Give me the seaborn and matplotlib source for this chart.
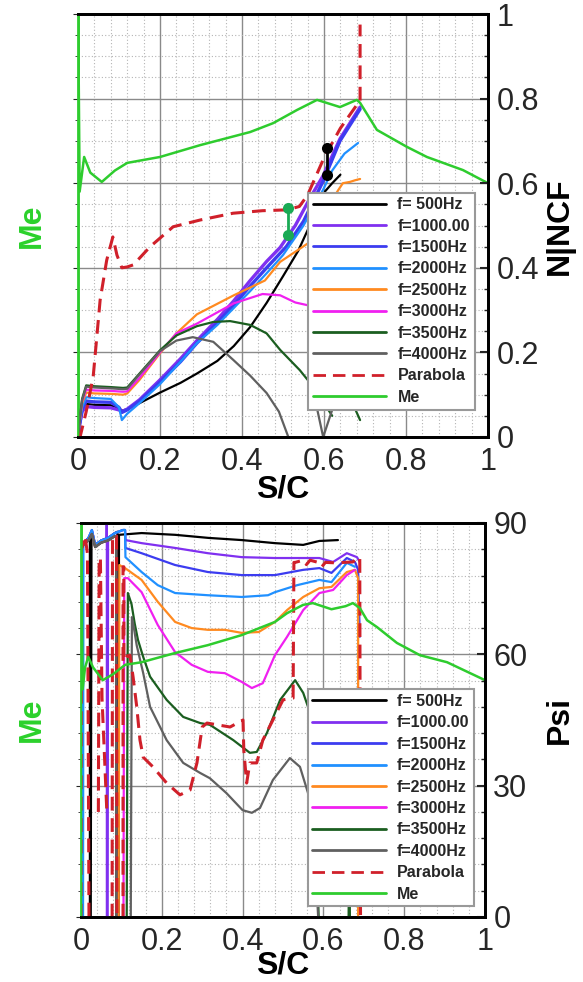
import numpy as np
import pandas as pd
import matplotlib
matplotlib.use("Agg")
import matplotlib.pyplot as plt
import seaborn as sns
from matplotlib import ticker
from matplotlib.lines import Line2D

# ---------------- data ----------------
labels = ["f= 500Hz", "f=1000.00", "f=1500Hz", "f=2000Hz", "f=2500Hz",
          "f=3000Hz", "f=3500Hz", "f=4000Hz", "Parabola", "Me"]
colors = ["#000000", "#8030f0", "#3c3cf0", "#2090ff", "#ff8a20",
          "#f020f0", "#1b5e20", "#606060", "#d0202a", "#2ecc2e"]

# top panel: N|NCF vs S/C
top_x_500 = [0, 0.004, 0.01, 0.02, 0.04, 0.08, 0.1, 0.107, 0.12, 0.15, 0.2, 0.25, 0.29, 0.34, 0.38, 0.42, 0.46, 0.5, 0.537, 0.57, 0.602, 0.62, 0.64]
top_y_500 = [0, 0.03, 0.065, 0.078, 0.076, 0.075, 0.068, 0.062, 0.066, 0.08, 0.105, 0.128, 0.15, 0.18, 0.215, 0.26, 0.317, 0.38, 0.44, 0.51, 0.58, 0.6, 0.62]
top_x_1000 = [0, 0.004, 0.01, 0.02, 0.04, 0.08, 0.1, 0.107, 0.12, 0.15, 0.2, 0.25, 0.29, 0.34, 0.38, 0.42, 0.46, 0.493, 0.53, 0.566, 0.598, 0.639, 0.688]
top_y_1000 = [0, 0.03, 0.06, 0.072, 0.07, 0.069, 0.064, 0.06, 0.066, 0.088, 0.135, 0.185, 0.228, 0.278, 0.322, 0.37, 0.415, 0.448, 0.5, 0.565, 0.618, 0.705, 0.78]
top_x_1500 = [0, 0.004, 0.01, 0.02, 0.04, 0.08, 0.1, 0.107, 0.12, 0.15, 0.2, 0.25, 0.29, 0.34, 0.38, 0.42, 0.46, 0.508, 0.55, 0.598, 0.639, 0.688]
top_y_1500 = [0, 0.03, 0.065, 0.085, 0.083, 0.082, 0.07, 0.058, 0.064, 0.085, 0.13, 0.178, 0.222, 0.27, 0.312, 0.357, 0.4, 0.45, 0.51, 0.605, 0.7, 0.775]
top_x_2000 = [0, 0.004, 0.01, 0.02, 0.04, 0.08, 0.1, 0.107, 0.12, 0.15, 0.2, 0.25, 0.29, 0.34, 0.38, 0.42, 0.46, 0.5, 0.55, 0.598, 0.62, 0.65, 0.683]
top_y_2000 = [0, 0.03, 0.07, 0.094, 0.092, 0.09, 0.07, 0.04, 0.055, 0.08, 0.125, 0.178, 0.222, 0.265, 0.305, 0.345, 0.387, 0.43, 0.5, 0.585, 0.63, 0.67, 0.695]
top_x_2500 = [0, 0.004, 0.01, 0.02, 0.04, 0.08, 0.11, 0.12, 0.15, 0.2, 0.24, 0.29, 0.38, 0.456, 0.493, 0.561, 0.6, 0.635, 0.646, 0.663, 0.676, 0.688]
top_y_2500 = [0, 0.035, 0.08, 0.105, 0.103, 0.102, 0.1, 0.103, 0.135, 0.198, 0.245, 0.29, 0.335, 0.37, 0.414, 0.458, 0.53, 0.584, 0.6, 0.603, 0.607, 0.61]
top_x_3000 = [0, 0.004, 0.01, 0.02, 0.04, 0.08, 0.11, 0.12, 0.15, 0.2, 0.24, 0.29, 0.38, 0.45, 0.493, 0.53, 0.558, 0.6]
top_y_3000 = [0, 0.035, 0.085, 0.112, 0.11, 0.109, 0.107, 0.108, 0.14, 0.2, 0.245, 0.268, 0.316, 0.338, 0.335, 0.318, 0.312, 0.3]
top_x_3500 = [0, 0.004, 0.01, 0.02, 0.04, 0.08, 0.11, 0.12, 0.15, 0.2, 0.24, 0.29, 0.33, 0.371, 0.42, 0.46, 0.493, 0.541, 0.566, 0.6, 0.62, np.nan, 0.665, 0.688]
top_y_3500 = [0, 0.04, 0.09, 0.122, 0.12, 0.118, 0.116, 0.117, 0.15, 0.205, 0.24, 0.262, 0.272, 0.274, 0.265, 0.245, 0.206, 0.158, 0.128, 0.08, 0.05, np.nan, 0.09, 0.04]
top_x_4000 = [0, 0.004, 0.01, 0.02, 0.04, 0.08, 0.11, 0.12, 0.15, 0.2, 0.24, 0.28, 0.33, 0.379, 0.42, 0.46, 0.49, 0.513, 0.52, np.nan, 0.578, 0.598, 0.622]
top_y_4000 = [0, 0.04, 0.088, 0.119, 0.117, 0.115, 0.113, 0.114, 0.148, 0.203, 0.228, 0.236, 0.225, 0.182, 0.145, 0.104, 0.06, 0.0, -0.02, np.nan, 0.09, 0.0, 0.07]
top_x_par = [0.0, 0.005, 0.02, 0.037, 0.054, 0.07, 0.085, 0.095, 0.107, 0.12, 0.135, 0.176, 0.232, 0.298, 0.378, 0.45, 0.51, 0.54, 0.56, 0.6, 0.64, 0.68, 0.688, 0.688]
top_y_par = [0.0, 0.0, 0.06, 0.142, 0.324, 0.418, 0.473, 0.43, 0.40, 0.402, 0.407, 0.45, 0.497, 0.513, 0.529, 0.535, 0.537, 0.545, 0.572, 0.66, 0.73, 0.785, 0.79, 0.975]
top_x_me = [0, 0, 0.004, 0.015, 0.03, 0.058, 0.09, 0.12, 0.2, 0.298, 0.42, 0.476, 0.534, 0.583, 0.639, 0.68, 0.688, 0.729, 0.802, 0.851, 0.939, 1.0]
top_y_me = [0, 1.05, 0.58, 0.662, 0.625, 0.603, 0.63, 0.648, 0.662, 0.69, 0.721, 0.742, 0.773, 0.797, 0.78, 0.797, 0.79, 0.726, 0.686, 0.662, 0.631, 0.6]
green_bar_x = [0.513, 0.513]
green_bar_y = [0.478, 0.541]
black_bar_x = [0.607, 0.607]
black_bar_y = [0.619, 0.683]

# bottom panel: Psi vs S/C  (values below 0 / above 90 leave the frame)
bot_x_500 = [0, 0.006, 0.018, 0.022, 0.022, 0.024, 0.026, 0.035, 0.05, 0.067, 0.084, 0.09, 0.091, 0.093, 0.094, 0.15, 0.233, 0.315, 0.398, 0.48, 0.55, 0.59, 0.636]
bot_y_500 = [84, 85.5, 86.5, 87, -5, -5, 88, 85, 86, 86.6, 87.7, 88, -5, -5, 87.3, 87.7, 87.3, 86.6, 86.1, 85.4, 85.0, 85.9, 86.1]
bot_x_1000 = [0, 0.006, 0.018, 0.027, 0.035, 0.05, 0.063, 0.064, 0.064, 0.066, 0.067, 0.084, 0.104, 0.109, 0.11, 0.15, 0.233, 0.314, 0.398, 0.48, 0.55, 0.59, 0.624, 0.658, 0.683, 0.69]
bot_y_1000 = [84, 85.5, 86.5, 88.4, 85, 86, 86.5, 100, -5, -5, 86.6, 87.7, 88.4, 88.4, 86.1, 85.4, 84.3, 83.1, 82.2, 82.0, 82.0, 82.0, 81.1, 83.1, 82.2, 81.1]
bot_x_1500 = [0, 0.006, 0.018, 0.027, 0.035, 0.05, 0.067, 0.084, 0.104, 0.109, 0.11, 0.15, 0.233, 0.314, 0.398, 0.48, 0.55, 0.59, 0.62, 0.658, 0.678, 0.686, 0.69]
bot_y_1500 = [84, 85.5, 86.5, 88.4, 85, 86, 86.6, 87.7, 88.4, 88.4, 84.3, 83.1, 80.4, 78.8, 78.1, 78.1, 79.3, 79.7, 78.6, 82.0, 81.1, 79.3, 64]
bot_x_2000 = [0, 0.002, 0.003, 0.005, 0.006, 0.018, 0.027, 0.035, 0.05, 0.067, 0.084, 0.104, 0.109, 0.11, 0.15, 0.19, 0.233, 0.314, 0.398, 0.463, 0.48, 0.535, 0.59, 0.62, 0.658, 0.678]
bot_y_2000 = [84, 85, -5, -5, 85.5, 86.5, 88.4, 85, 86, 86.6, 87.7, 88.4, 88.4, 82.2, 78.8, 75.8, 74.0, 73.5, 73.1, 73.5, 74.2, 75.8, 77.0, 76.5, 80.9, 80]
bot_x_2500 = [0, 0.006, 0.018, 0.027, 0.035, 0.05, 0.067, 0.084, 0.087, 0.087, 0.093, 0.095, 0.109, 0.15, 0.19, 0.233, 0.274, 0.314, 0.356, 0.398, 0.44, 0.48, 0.51, 0.55, 0.59, 0.62, 0.658, 0.678, 0.686, 0.686]
bot_y_2500 = [84, 85, 86, 87.5, 84.5, 85.5, 86, 87, 87, -5, -5, 80.4, 79.7, 77, 72, 67.4, 66, 65.6, 65.6, 64.9, 65.1, 67.4, 70.1, 73.1, 75.1, 75.4, 78.8, 79.3, 77.4, -5]
bot_x_3000 = [0, 0.006, 0.018, 0.027, 0.035, 0.05, 0.067, 0.084, 0.087, 0.087, 0.105, 0.107, 0.116, 0.15, 0.19, 0.233, 0.274, 0.314, 0.356, 0.398, 0.423, 0.45, 0.48, 0.51, 0.55, 0.59, 0.624, 0.658, 0.678]
bot_y_3000 = [84, 85, 86, 87.5, 84.5, 85.5, 86, 87, 87, -5, -5, 77.4, 77.4, 74.2, 66.7, 60.5, 57.6, 56, 55.7, 53.7, 52.3, 53.4, 59.8, 64.0, 70.1, 74.0, 74.7, 78.1, 79.3]
bot_x_3500 = [0, 0.006, 0.018, 0.027, 0.035, 0.05, 0.067, 0.084, 0.087, 0.087, 0.113, 0.116, 0.125, 0.133, 0.141, 0.154, 0.171, 0.212, 0.253, 0.295, 0.319, 0.377, 0.418, 0.435, 0.46, 0.493, 0.53, 0.55, 0.562, 0.58, 0.59, 0.662, 0.664, 0.666]
bot_y_3500 = [84, 85, 86, 87.5, 84.5, 85.5, 86, 87, 87, -5, -5, 74, 71.5, 67, 63.3, 59.4, 54.9, 49.6, 45.7, 44.3, 43.9, 40.4, 37.5, 37.7, 42.0, 49.6, 54.1, 51.2, 48, 25, -5, -5, 20, -5]
bot_x_4000 = [0, 0.006, 0.018, 0.027, 0.035, 0.05, 0.067, 0.084, 0.087, 0.087, 0.123, 0.126, 0.131, 0.138, 0.154, 0.171, 0.212, 0.253, 0.295, 0.319, 0.36, 0.4, 0.423, 0.443, 0.475, 0.517, 0.542, 0.562, 0.58, 0.59]
bot_y_4000 = [84, 85, 86, 87.5, 84.5, 85.5, 86, 87, 87, -5, -5, 68.5, 66, 62, 55.7, 48.0, 40.4, 35.2, 32.9, 31.7, 28.3, 24.4, 23.8, 24.9, 31.3, 36.3, 34.3, 28.3, 12, -5]
bot_x_par = [0, 0.001, 0.01, 0.016, 0.02, np.nan, 0.043, 0.045, 0.048, 0.052, 0.064, np.nan, 0.077, 0.078, 0.088, 0.089, np.nan,
             0.104, 0.104, 0.106, 0.106, 0.11, 0.116, 0.121, 0.129, 0.138, 0.146, 0.154, 0.178, 0.212, 0.245, 0.27, 0.287, 0.3, 0.312,
             0.369, 0.401, 0.403, 0.41, 0.418, 0.435, 0.45, 0.475, 0.5, 0.525, 0.527, 0.53, 0.55, 0.558, 0.567, 0.587, 0.596, 0.605,
             0.63, 0.673, 0.686, 0.69, 0.692]
bot_y_par = [-5, 84, 87, 83, -5, np.nan, 24, 82, 82, 50, 24, np.nan, -5, 87, 87, -5, np.nan,
             -5, 80, 80, 59, 60, 59.5, 59.8, 54.8, 48.0, 40.4, 36.5, 34.3, 30.6, 27.9, 29.0, 35.2, 43.4, 44.3,
             43.4, 45.0, 38.1, 30.6, 35.2, 35.2, 40.4, 45.0, 49.6, 50, 81, 81, 81.5, 80.5, 81.5, 81, 80, 81,
             80.9, 81.1, 82.2, 82, -5]
bot_x_me = [0, 0, 0.004, 0.01, 0.018, 0.03, 0.054, 0.08, 0.109, 0.15, 0.233, 0.314, 0.398, 0.48, 0.51, 0.55, 0.574, 0.62, 0.655, 0.673, 0.69, 0.708, 0.733, 0.782, 0.839, 0.906, 1.0]
bot_y_me = [0, 92, 52, 57, 59.4, 57, 54.1, 55.5, 57.6, 58.2, 60.3, 62.1, 64.4, 67.4, 69.4, 71.3, 71.7, 70.3, 71.0, 71.7, 70.6, 67.8, 66.2, 62.6, 59.8, 58.2, 54.1]

top_series = [(top_x_500, top_y_500), (top_x_1000, top_y_1000), (top_x_1500, top_y_1500),
              (top_x_2000, top_y_2000), (top_x_2500, top_y_2500), (top_x_3000, top_y_3000),
              (top_x_3500, top_y_3500), (top_x_4000, top_y_4000), (top_x_par, top_y_par),
              (top_x_me, top_y_me)]
bot_series = [(bot_x_500, bot_y_500), (bot_x_1000, bot_y_1000), (bot_x_1500, bot_y_1500),
              (bot_x_2000, bot_y_2000), (bot_x_2500, bot_y_2500), (bot_x_3000, bot_y_3000),
              (bot_x_3500, bot_y_3500), (bot_x_4000, bot_y_4000), (bot_x_par, bot_y_par),
              (bot_x_me, bot_y_me)]

sns.set_style("white")
plt.rcParams['font.family'] = ['Liberation Sans', 'DejaVu Sans']

W, H = 583, 982
fig = plt.figure(figsize=(W / 100, H / 100), dpi=100)

DASH = (0, (4.5, 2.5))
GREEN = "#2ecc2e"


def draw(ax, xs, ys, color, **kw):
    df = pd.DataFrame({"x": xs, "y": ys})
    df["seg"] = df["y"].isna().cumsum()
    df = df.dropna()
    sns.lineplot(data=df, x="x", y="y", units="seg", estimator=None, sort=False,
                 color=color, ax=ax, legend=False, **kw)


def style_axes(ax, ymax, ymajor, yminor):
    ax.set_xlim(0, 1)
    ax.set_ylim(0, ymax)
    ax.xaxis.set_major_locator(ticker.MultipleLocator(0.2))
    ax.xaxis.set_minor_locator(ticker.MultipleLocator(0.04))
    ax.yaxis.set_major_locator(ticker.MultipleLocator(ymajor))
    ax.yaxis.set_minor_locator(ticker.MultipleLocator(yminor))
    ax.xaxis.set_major_formatter(ticker.FuncFormatter(lambda v, p: f"{v:g}"))
    ax.grid(True, which="major", color="#8a8a8a", lw=1.0, ls="-")
    ax.grid(True, which="minor", color="#b4b4b4", lw=0.8, ls=(0, (1, 2)))
    ax.set_axisbelow(True)
    ax.tick_params(axis="x", which="major", direction="in", length=6, width=1.5,
                   labelsize=22, pad=7, top=False)
    ax.tick_params(axis="x", which="minor", direction="in", length=3, width=1, top=False)
    ax.tick_params(axis="y", which="both", left=False, labelleft=False)
    ax.set_xlabel("")
    ax.set_ylabel("")
    for s in ax.spines.values():
        s.set_color("black")
        s.set_linewidth(2)
    ax.spines["left"].set_color(GREEN)

    ax2 = ax.twinx()
    ax2.set_ylim(0, ymax)
    ax2.yaxis.set_major_locator(ticker.MultipleLocator(ymajor))
    ax2.yaxis.set_minor_locator(ticker.MultipleLocator(yminor))
    ax2.yaxis.set_major_formatter(ticker.FuncFormatter(lambda v, p: f"{v:g}"))
    ax2.tick_params(axis="y", which="major", direction="in", length=6, width=1.5,
                    labelsize=22, pad=6)
    ax2.tick_params(axis="y", which="minor", direction="in", length=3, width=1)
    for s in ax2.spines.values():
        s.set_color("black")
        s.set_linewidth(2)
    ax2.spines["left"].set_visible(False)


def add_legend(ax):
    handles = []
    for lab, c in zip(labels, colors):
        ls = DASH if lab == "Parabola" else "-"
        handles.append(Line2D([], [], color=c, lw=2, ls=ls))
    leg = ax.legend(handles, labels, loc="upper left", bbox_to_anchor=(0.561, 0.578),
                    borderaxespad=0, frameon=True, fancybox=False, framealpha=1,
                    edgecolor="#999999", handlelength=4.6, handletextpad=0.7,
                    labelspacing=0.4, borderpad=0.3,
                    prop={"weight": "bold", "size": 11.5})
    leg.get_frame().set_linewidth(1.5)
    leg.set_zorder(10)


def panel(rect, series, ymax, ymajor, yminor, right_label, thick, label_y, sc_y):
    ax = fig.add_axes(rect)
    for i, ((xs, ys), c) in enumerate(zip(series, colors)):
        if labels[i] == "Parabola":
            draw(ax, xs, ys, c, lw=2.2, linestyle=DASH, zorder=4)
        elif labels[i] == "Me":
            draw(ax, xs, ys, c, lw=1.8, zorder=5)
        else:
            draw(ax, xs, ys, c, lw=2.4 if i in thick else 1.6, zorder=3)
    style_axes(ax, ymax, ymajor, yminor)
    add_legend(ax)
    fig.text(32 / W, 1 - label_y / H, "Me", rotation=90, ha="center", va="center",
             color="#2bd12b", fontsize=23, fontweight="bold")
    fig.text(560 / W, 1 - label_y / H, right_label, rotation=90, ha="center", va="center",
             color="black", fontsize=23, fontweight="bold")
    fig.text((rect[0] + rect[2] / 2), 1 - sc_y / H, "S/C", ha="center", va="center",
             color="black", fontsize=23, fontweight="bold")
    return ax


ax_top = panel([78 / W, 1 - 437 / H, 410 / W, 423 / H], top_series, 1.0, 0.2, 0.05,
               "N|NCF", thick=(1, 2), label_y=226, sc_y=489)
# vertical markers in the top panel
sns.lineplot(x=green_bar_x, y=green_bar_y, color="#1aaa55", lw=2, marker="o",
             markersize=8, markeredgewidth=0, estimator=None, sort=False,
             ax=ax_top, legend=False, zorder=6)
sns.lineplot(x=black_bar_x, y=black_bar_y, color="black", lw=2, marker="o",
             markersize=8, markeredgewidth=0, estimator=None, sort=False,
             ax=ax_top, legend=False, zorder=6)
ax_top.set_xlabel("")
ax_top.set_ylabel("")

ax_bot = panel([81 / W, 1 - 917 / H, 404 / W, 394 / H], bot_series, 90, 30, 6,
               "Psi", thick=(), label_y=720, sc_y=966)

fig.savefig("out.png", dpi=100)
